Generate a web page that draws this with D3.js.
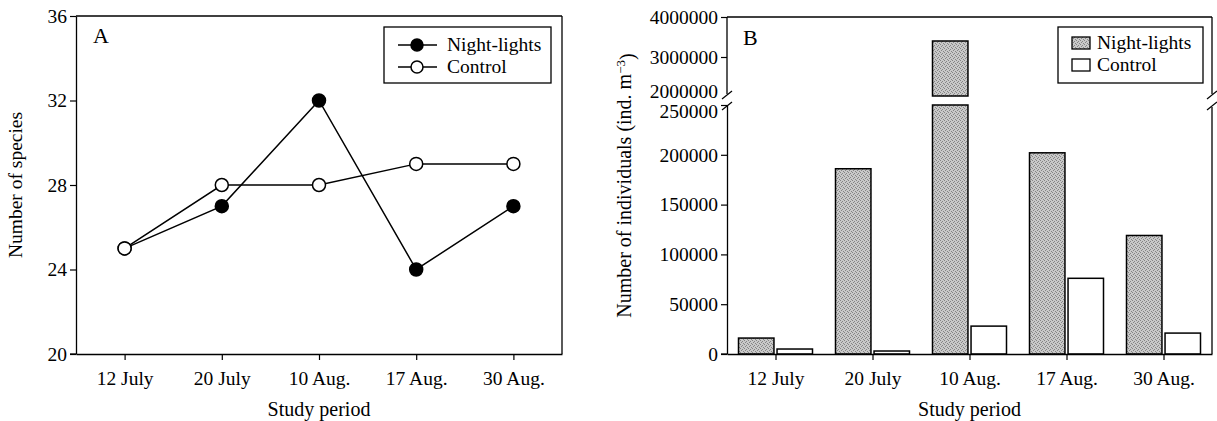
<!DOCTYPE html>
<html><head><meta charset="utf-8">
<script src="https://cdn.jsdelivr.net/npm/d3@7"></script>
<style>
html,body{margin:0;padding:0;background:#fff;}
svg{display:block;}
text{font-family:"Liberation Serif","Times New Roman",serif;fill:#000;}
</style></head>
<body>
<svg id="chart" width="1217" height="421"></svg>
<script>
// ---- data ----
const categories = ["12 July", "20 July", "10 Aug.", "17 Aug.", "30 Aug."];
const speciesNight = [25, 27, 32, 24, 27];
const speciesControl = [25, 28, 28, 29, 29];
const speciesTicks = [20, 24, 28, 32, 36];
const indivNight = [16000, 186000, 3400000, 202000, 119000];
const indivControl = [5000, 3000, 28000, 76000, 21000];
const lowerTicks = [0, 50000, 100000, 150000, 200000, 250000];
const upperTicks = [2000000, 3000000, 4000000];
const seriesNames = ["Night-lights", "Control"];

const svg = d3.select("#chart");
const FS = 19.5;

// pattern for stippled bars
const defs = svg.append("defs");
const pat = defs.append("pattern").attr("id", "stip").attr("patternUnits", "userSpaceOnUse")
  .attr("width", 4).attr("height", 4);
pat.append("rect").attr("width", 4).attr("height", 4).attr("fill", "#c9c9c9");
[[0,0],[2,1],[1,2],[3,3]].forEach(([x,y]) => pat.append("rect").attr("x", x).attr("y", y)
  .attr("width", 1).attr("height", 1).attr("fill", "#858585"));

// ================= Panel A =================
const A = {left: 76, right: 562, top: 16, bottom: 354};
const xA = d3.scalePoint().domain(categories).range([A.left, A.right]).padding(0.5);
const yA = d3.scaleLinear().domain([20, 36]).range([A.bottom, A.top]);
const gA = svg.append("g");

// frame
gA.append("line").attr("x1", A.left).attr("x2", A.right).attr("y1", A.top).attr("y2", A.top).attr("stroke", "#000").attr("stroke-width", 1.3);
gA.append("line").attr("x1", A.right).attr("x2", A.right).attr("y1", A.top).attr("y2", A.bottom).attr("stroke", "#000").attr("stroke-width", 1.3);

const axA_y = gA.append("g").attr("transform", `translate(${A.left},0)`)
  .call(d3.axisLeft(yA).tickValues(speciesTicks).tickSize(6).tickPadding(3).tickSizeOuter(0));
const axA_x = gA.append("g").attr("transform", `translate(0,${A.bottom})`)
  .call(d3.axisBottom(xA).tickSize(6).tickPadding(11).tickSizeOuter(0));
[axA_y, axA_x].forEach(ax => {
  ax.selectAll("path.domain").attr("stroke", "#000").attr("stroke-width", 1.3);
  ax.selectAll(".tick line").attr("stroke", "#000").attr("stroke-width", 1.2);
  ax.selectAll("text").style("font-size", FS + "px").style("font-family", "Liberation Serif").attr("fill", "#000");
});
// bottom axis extends left of y axis
gA.append("line").attr("x1", A.left - 6).attr("x2", A.left).attr("y1", A.bottom).attr("y2", A.bottom).attr("stroke", "#000").attr("stroke-width", 1.3);

gA.append("text").attr("x", 93).attr("y", 43).style("font-size", "22px").text("A");
gA.append("text").attr("x", (A.left + A.right) / 2).attr("y", 416).attr("text-anchor", "middle").style("font-size", "20px").text("Study period");
gA.append("text").attr("transform", `translate(22,${(A.top + A.bottom) / 2}) rotate(-90)`).attr("text-anchor", "middle").style("font-size", FS + "px").text("Number of species");

const lineA = d3.line().x((d, i) => xA(categories[i])).y(d => yA(d));
const seriesA = [
  {name: seriesNames[0], vals: speciesNight, fill: "#000"},
  {name: seriesNames[1], vals: speciesControl, fill: "#fff"}
];
seriesA.forEach(s => {
  gA.append("path").datum(s.vals).attr("d", lineA).attr("fill", "none").attr("stroke", "#000").attr("stroke-width", 1.5);
});
seriesA.forEach(s => {
  gA.selectAll(null).data(s.vals).enter().append("circle")
    .attr("cx", (d, i) => xA(categories[i])).attr("cy", d => yA(d)).attr("r", 6.5)
    .attr("fill", s.fill).attr("stroke", "#000").attr("stroke-width", 1.5);
});
// legend A
const legA = gA.append("g");
legA.append("rect").attr("x", 384).attr("y", 27).attr("width", 167).attr("height", 56).attr("fill", "#fff").attr("stroke", "#000").attr("stroke-width", 1.3);
seriesA.forEach((s, i) => {
  const yy = 45 + i * 22;
  legA.append("line").attr("x1", 398).attr("x2", 437).attr("y1", yy).attr("y2", yy).attr("stroke", "#000").attr("stroke-width", 1.5);
  legA.append("circle").attr("cx", 417).attr("cy", yy).attr("r", 6).attr("fill", s.fill).attr("stroke", "#000").attr("stroke-width", 1.5);
  legA.append("text").attr("x", 447).attr("y", yy + 6).style("font-size", FS + "px").text(s.name);
});

// ================= Panel B =================
const B = {left: 727, right: 1212, top: 17, upperBottom: 96, lowerTop: 105, bottom: 354};
const xB = d3.scalePoint().domain(categories).range([B.left, B.right]).padding(0.5);
const sub = d3.scaleBand().domain(seriesNames).range([-37, 37]).paddingInner(0.08);
const yLow = d3.scaleLinear().domain([0, 250000]).range([B.bottom, B.lowerTop]);
const yUp = d3.scaleLinear().domain([2000000, 4000000]).range([97, B.top]);
const gB = svg.append("g");

// bars
const dataB = categories.map((c, i) => [
  {cat: c, s: seriesNames[0], v: indivNight[i]},
  {cat: c, s: seriesNames[1], v: indivControl[i]}
]).flat();
dataB.forEach(d => {
  const x = xB(d.cat) + sub(d.s);
  const w = sub.bandwidth();
  const fill = d.s === seriesNames[0] ? "url(#stip)" : "#fff";
  if (d.v <= 250000) {
    gB.append("rect").attr("x", x).attr("y", yLow(d.v)).attr("width", w).attr("height", B.bottom - yLow(d.v))
      .attr("fill", fill).attr("stroke", "#000").attr("stroke-width", 1.5);
  } else {
    gB.append("rect").attr("x", x).attr("y", B.lowerTop).attr("width", w).attr("height", B.bottom - B.lowerTop)
      .attr("fill", fill).attr("stroke", "#000").attr("stroke-width", 1.5);
    gB.append("rect").attr("x", x).attr("y", yUp(d.v)).attr("width", w).attr("height", B.upperBottom - yUp(d.v))
      .attr("fill", fill).attr("stroke", "#000").attr("stroke-width", 1.5);
  }
});

// axes
const axLow = gB.append("g").attr("transform", `translate(${B.left},0)`)
  .call(d3.axisLeft(yLow).tickValues(lowerTicks).tickFormat(d3.format("d")).tickSize(6).tickPadding(3).tickSizeOuter(0));
const axUp = gB.append("g").attr("transform", `translate(${B.left},0)`)
  .call(d3.axisLeft(yUp).tickValues(upperTicks).tickFormat(d3.format("d")).tickSize(6).tickPadding(3).tickSizeOuter(0));
axUp.select("path.domain").attr("d", `M0,${B.top}V${B.upperBottom - 2}`);
axUp.selectAll(".tick").filter(d => d === 2000000).select("line").remove();
axUp.selectAll(".tick").filter(d => d === 2000000).select("text").attr("dy", "0.0em");
const axB_x = gB.append("g").attr("transform", `translate(0,${B.bottom})`)
  .call(d3.axisBottom(xB).tickSize(6).tickPadding(11).tickSizeOuter(0));
[axLow, axUp, axB_x].forEach(ax => {
  ax.selectAll("path.domain").attr("stroke", "#000").attr("stroke-width", 1.3);
  ax.selectAll(".tick line").attr("stroke", "#000").attr("stroke-width", 1.2);
  ax.selectAll("text").style("font-size", FS + "px").style("font-family", "Liberation Serif").attr("fill", "#000");
});
axLow.selectAll(".tick").filter(d => d === 250000).select("text").attr("dy", "0.62em");
gB.append("line").attr("x1", B.left - 6).attr("x2", B.left).attr("y1", B.bottom).attr("y2", B.bottom).attr("stroke", "#000").attr("stroke-width", 1.3);

// frame
gB.append("line").attr("x1", B.left).attr("x2", B.right).attr("y1", B.top).attr("y2", B.top).attr("stroke", "#000").attr("stroke-width", 1.3);
gB.append("line").attr("x1", B.right).attr("x2", B.right).attr("y1", B.top).attr("y2", B.upperBottom - 2).attr("stroke", "#000").attr("stroke-width", 1.3);
gB.append("line").attr("x1", B.right).attr("x2", B.right).attr("y1", B.lowerTop + 2).attr("y2", B.bottom).attr("stroke", "#000").attr("stroke-width", 1.3);
// break marks
[B.left, B.right].forEach(x => {
  [B.upperBottom - 1, B.lowerTop + 1].forEach(y => {
    gB.append("line").attr("x1", x - 5).attr("x2", x + 5).attr("y1", y + 4).attr("y2", y - 4).attr("stroke", "#000").attr("stroke-width", 1.2);
  });
});

gB.append("text").attr("x", 743).attr("y", 45).style("font-size", "22px").text("B");
gB.append("text").attr("x", (B.left + B.right) / 2).attr("y", 416).attr("text-anchor", "middle").style("font-size", "20px").text("Study period");
const yl = gB.append("text").attr("transform", `translate(631,${(B.top + B.bottom) / 2}) rotate(-90)`).attr("text-anchor", "middle").style("font-size", "20px");
yl.append("tspan").text("Number of individuals (ind. m");
yl.append("tspan").attr("dy", "-0.45em").style("font-size", "13px").text("\u22123");
yl.append("tspan").attr("dy", "0.45em").text(")");

// legend B
const legB = gB.append("g");
legB.append("rect").attr("x", 1058).attr("y", 27).attr("width", 145).attr("height", 56).attr("fill", "#fff").attr("stroke", "#000").attr("stroke-width", 1.3);
seriesNames.forEach((s, i) => {
  const yy = 43 + i * 22;
  legB.append("rect").attr("x", 1072).attr("y", yy - 6).attr("width", 18).attr("height", 12)
    .attr("fill", i === 0 ? "url(#stip)" : "#fff").attr("stroke", "#000").attr("stroke-width", 1.3);
  legB.append("text").attr("x", 1097).attr("y", yy + 6).style("font-size", FS + "px").text(s);
});
</script>
</body></html>
